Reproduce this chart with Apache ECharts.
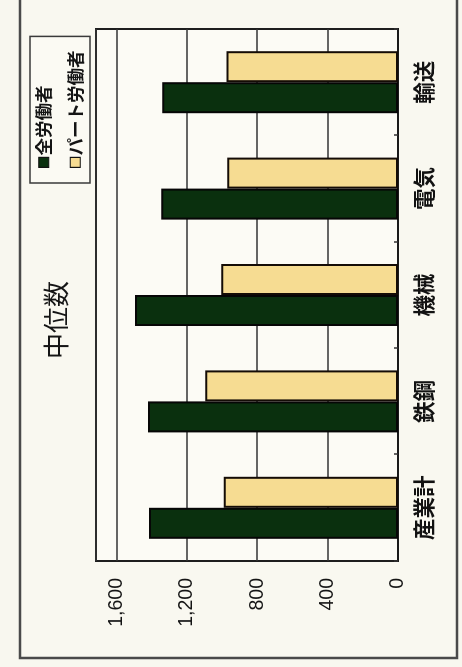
<!DOCTYPE html>
<html>
<head>
<meta charset="utf-8">
<script src="https://cdn.jsdelivr.net/npm/echarts@6/dist/echarts.min.js"></script>
<style>
  html, body { margin: 0; padding: 0; background: #f8f7ef; overflow: hidden; }
  body { width: 462px; height: 667px; position: relative; }
  /* The chart is laid out landscape and turned a quarter turn counter-clockwise */
  #chart {
    position: absolute; left: 0; top: 0;
    width: 667px; height: 462px;
    transform-origin: 0 0;
    transform: translate(0, 667px) rotate(-90deg);
  }
</style>
</head>
<body>
<div id="chart"></div>
<script>
// Median wage by industry
const categories = ['産業計', '鉄鋼', '機械', '電気', '輸送'];
const allWorkers = [1415, 1420, 1495, 1345, 1340];   // 全労働者
const partTimers = [990, 1095, 1005, 970, 975];      // パート労働者
const valueTicks = [0, 400, 800, 1200, 1600];

const seriesNames = ['全労働者', 'パート労働者'];
const CJK = '"Noto Sans CJK JP", "Noto Sans CJK SC", sans-serif';

const chart = echarts.init(document.getElementById('chart'), null, { renderer: 'canvas' });

chart.setOption({
  backgroundColor: 'transparent',
  animation: false,
  title: {
    text: '中位数',
    left: 308,
    top: 43,
    padding: 0,
    textStyle: { fontFamily: CJK, fontSize: 26, fontWeight: 'normal', color: '#151515' }
  },
  legend: {
    orient: 'vertical',
    left: 484,
    top: 30,
    padding: [5, 14, 6, 15],
    itemGap: 14,
    itemWidth: 10,
    itemHeight: 10,
    icon: 'rect',
    borderColor: '#3a3a3a',
    borderWidth: 1.5,
    backgroundColor: '#fbfaf3',
    itemStyle: { borderColor: '#111', borderWidth: 1.2 },
    textStyle: { fontFamily: CJK, fontSize: 17.5, fontWeight: 'bold', color: '#141414', padding: [0, 0, 0, -3] },
    data: seriesNames
  },
  graphic: [{
    type: 'rect',
    silent: true,
    z: -10,
    shape: { x: 9, y: 20, width: 690, height: 437 },
    style: { fill: '#f9f8f0', stroke: '#4a4a4a', lineWidth: 2.5 }
  }],
  grid: {
    left: 106,
    right: 29,
    top: 96,
    bottom: 64,
    show: true,
    backgroundColor: '#fcfbf5',
    borderColor: '#1e1e1e',
    borderWidth: 2
  },
  xAxis: {
    type: 'category',
    data: categories,
    axisLine: { show: true, lineStyle: { color: '#1a1a1a', width: 2 } },
    axisTick: { show: true, inside: true, length: 4, lineStyle: { color: '#333', width: 1.5 } },
    axisLabel: { fontFamily: CJK, fontSize: 21.5, fontWeight: 'bold', color: '#121212', margin: 15 }
  },
  yAxis: {
    type: 'value',
    min: 0,
    max: 1716,
    interval: 400,
    axisLine: { show: false },
    axisTick: { show: false },
    splitLine: { show: true, lineStyle: { color: '#333333', width: 1.5 } },
    axisLabel: {
      fontFamily: '"Liberation Sans", Arial, sans-serif',
      fontSize: 19.5,
      color: '#151515',
      margin: 17,
      formatter: function (v) {
        return valueTicks.indexOf(v) >= 0 ? v.toLocaleString('en-US') : '';
      }
    }
  },
  series: [
    {
      name: seriesNames[0],
      type: 'bar',
      data: allWorkers,
      barWidth: 31,
      barGap: '0%',
      itemStyle: { color: '#0a300e', borderColor: '#060606', borderWidth: 2 }
    },
    {
      name: seriesNames[1],
      type: 'bar',
      data: partTimers,
      barWidth: 31,
      barGap: '0%',
      itemStyle: { color: '#f6dc92', borderColor: '#140c06', borderWidth: 2 }
    }
  ]
});
</script>
</body>
</html>
